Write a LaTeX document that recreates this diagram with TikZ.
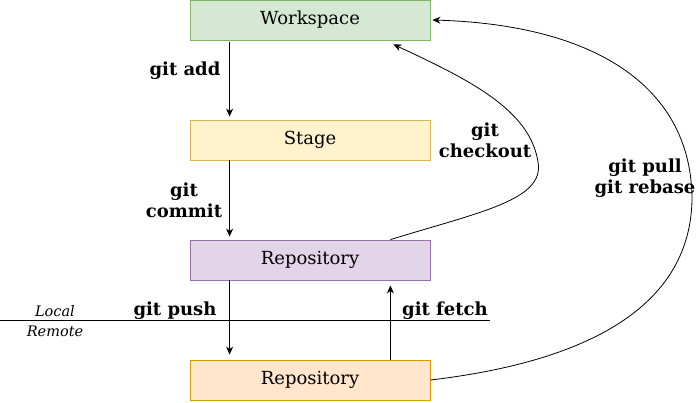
\documentclass[tikz,border=0pt]{standalone}
\usepackage{fontspec}
\setmainfont{DejaVu Serif}
\usetikzlibrary{arrows.meta,positioning}

\definecolor{wsfill}{HTML}{D5E8D4}
\definecolor{wsline}{HTML}{82B366}
\definecolor{stfill}{HTML}{FFF2CC}
\definecolor{stline}{HTML}{D6B656}
\definecolor{rpfill}{HTML}{E1D5E7}
\definecolor{rpline}{HTML}{9673A6}
\definecolor{rmfill}{HTML}{FFE6CC}
\definecolor{rmline}{HTML}{D79B00}

\begin{document}
\begin{tikzpicture}[x=1pt,y=-1pt,line width=0.8pt,>={Stealth[length=8pt,width=7pt,inset=2.5pt]},
  box/.style={rectangle, draw, minimum width=240pt, minimum height=40pt, inner sep=0pt, font=\fontsize{18}{21}\selectfont},
  cmd/.style={text centered, align=center, font=\fontsize{18}{21}\selectfont\bfseries},
  side/.style={font=\fontsize{14.5}{16}\selectfont\itshape}]
\useasboundingbox (0,0) rectangle (696,402);

\node [box, fill=wsfill, draw=wsline] (workspace) at (310,20) {Workspace};
\node [box, fill=stfill, draw=stline] (stage) at (310,140) {Stage};
\node [box, fill=rpfill, draw=rpline] (repo) at (310,260) {Repository};
\node [box, fill=rmfill, draw=rmline] (remote) at (310,380) {Repository};

% local / remote border
\coordinate (border_l) at (0,320);
\coordinate (border_r) at (490,320);
\draw (border_l) -- (border_r);
\node [side] (local) at (55,311) {Local};
\node [side] (remotetxt) at (55,331) {Remote};

\draw [->, shorten <=2pt, shorten >=3pt] ([xshift=40pt]workspace.south west) -- ([xshift=40pt]stage.north west);
\node [cmd] (add) at (185,71) {git add};

\draw [->, shorten >=3pt] ([xshift=40pt]stage.south west) -- ([xshift=40pt]repo.north west);
\node [cmd] (commit) at (184,200) {git\\commit};

\draw [->, shorten >=5pt] ([xshift=40pt]repo.south west) -- ([xshift=40pt]remote.north west);
\node [cmd] (push) at (175,311) {git push};

\draw [->, shorten >=5pt] ([xshift=-40pt]remote.north east) -- ([xshift=-40pt]repo.south east);
\node [cmd] (fetch) at (445,311) {git fetch};

\draw [->] ([xshift=-40pt]repo.north east) .. controls (480,212) and (545,200) .. (538,162)
  .. controls (530,110) and (470,80) .. ([xshift=-37pt,yshift=-4pt]workspace.south east);
\node [cmd] (checkout) at (485,140) {git\\checkout};

\draw [->] (remote.east) .. controls (600,360) and (690,300) .. (692,200)
  .. controls (692,90) and (600,25) .. ([xshift=2pt]workspace.east);
\node [cmd] (pull) at (645,178) {git pull\\git rebase};

\end{tikzpicture}
\end{document}
